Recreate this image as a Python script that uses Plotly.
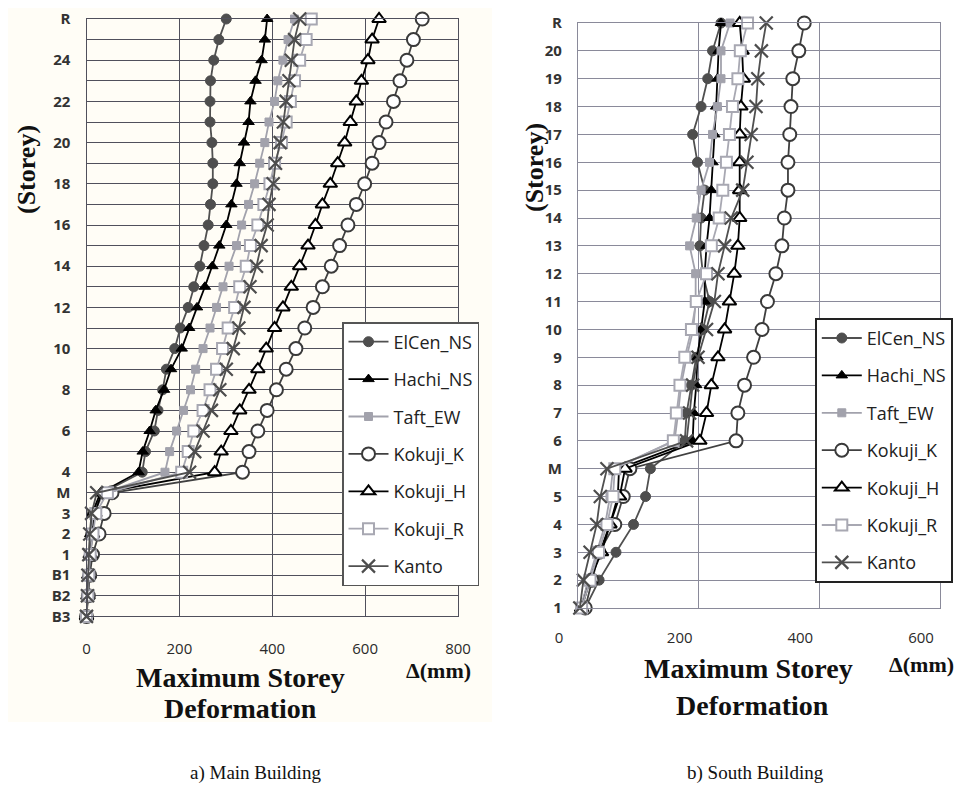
import plotly.graph_objects as go

# page body has an 8px margin: the figure is drawn from (8, 8) in the 966x800 window
OFF = 8
W, H = 966 - OFF, 800 - 2 * OFF

# ---------------- data: Main Building (bottom -> top) ----------------
levels_main = ["B3", "B2", "B1", "1", "2", "3", "M"] + [str(i) for i in range(4, 26)] + ["R"]
labels_main_shown = ["B3", "B2", "B1", "1", "2", "3", "M", "4", "6", "8", "10", "12", "14",
                     "16", "18", "20", "22", "24", "R"]

main_elcen = [0, 2, 4, 6, 9, 13, 35, 120, 127, 146, 154, 164, 172, 190, 202, 219, 231, 244, 253,
              262, 267, 272, 272, 270, 266, 266, 267, 274, 285, 301]
main_hachi = [0, 2, 3, 5, 8, 12, 30, 112, 121, 136, 149, 167, 182, 205, 221, 238, 255, 271, 286,
              301, 312, 323, 330, 339, 349, 353, 364, 377, 384, 389]
main_taft = [0, 2, 4, 6, 10, 15, 38, 169, 179, 194, 209, 224, 235, 251, 266, 280, 294, 307, 323,
             334, 349, 362, 373, 384, 393, 405, 412, 423, 434, 448]
main_kokuji_k = [0, 4, 7, 13, 27, 38, 55, 336, 350, 369, 389, 409, 430, 451, 470, 488, 508, 527,
                 545, 563, 581, 599, 615, 630, 645, 661, 675, 690, 704, 723]
main_kokuji_h = [0, 3, 5, 8, 13, 18, 33, 276, 290, 311, 330, 350, 369, 387, 405, 423, 441, 459,
                 477, 493, 508, 525, 541, 556, 568, 581, 592, 606, 615, 630]
main_kokuji_r = [0, 3, 5, 8, 14, 20, 45, 205, 219, 231, 251, 266, 280, 293, 305, 319, 330, 344,
                 353, 369, 382, 395, 405, 420, 430, 439, 448, 459, 473, 484]
main_kanto = [0, 2, 3, 5, 7, 11, 22, 222, 233, 251, 269, 287, 301, 316, 328, 339, 352, 366, 376,
              389, 393, 402, 407, 417, 424, 430, 436, 441, 448, 459]

# ---------------- data: South Building (bottom -> top) ----------------
levels_south = ["1", "2", "3", "4", "5", "M"] + [str(i) for i in range(6, 21)] + ["R"]

south_elcen = [12, 35, 63, 92, 112, 120, 177, 180, 188, 196, 207, 218, 207, 202, 204, 210, 198,
               190, 204, 215, 223, 237]
south_hachi = [5, 18, 36, 53, 66, 68, 190, 192, 196, 198, 204, 210, 210, 213, 218, 221, 223, 226,
               229, 231, 233, 237]
south_taft = [4, 17, 31, 45, 53, 58, 160, 166, 171, 180, 191, 195, 195, 185, 196, 204, 218, 223,
              231, 237, 237, 252]
south_kokuji_k = [12, 23, 35, 61, 75, 86, 262, 265, 276, 291, 305, 314, 328, 338, 342, 348, 348,
                  351, 353, 356, 366, 375]
south_kokuji_h = [6, 20, 39, 53, 69, 78, 202, 213, 221, 232, 243, 251, 259, 265, 268, 268, 268,
                  268, 270, 274, 272, 268]
south_kokuji_r = [6, 20, 34, 48, 58, 61, 158, 163, 169, 177, 188, 196, 213, 221, 234, 240, 246,
                  251, 256, 265, 269, 281]
south_kanto = [3, 9, 20, 31, 37, 48, 180, 185, 190, 199, 213, 226, 232, 243, 254, 273, 280, 287,
               295, 298, 304, 312]

series_names = ["ElCen_NS", "Hachi_NS", "Taft_EW", "Kokuji_K", "Kokuji_H", "Kokuji_R", "Kanto"]
main_series = [main_elcen, main_hachi, main_taft, main_kokuji_k, main_kokuji_h, main_kokuji_r, main_kanto]
south_series = [south_elcen, south_hachi, south_taft, south_kokuji_k, south_kokuji_h, south_kokuji_r, south_kanto]

x_ticks_main = [0, 200, 400, 600, 800]
x_ticks_south = [0, 200, 400, 600]

# ---------------- styles ----------------
styles = {
    "ElCen_NS": dict(line=dict(color="#505050", width=1.8),
                     marker=dict(symbol="circle", size=10, color="#4e4e4e", line=dict(color="#4e4e4e", width=1))),
    "Hachi_NS": dict(line=dict(color="#000000", width=1.8),
                     marker=dict(symbol="triangle-up", size=10, color="#000000", line=dict(color="#000000", width=1))),
    "Taft_EW": dict(line=dict(color="#a2a2ac", width=1.8),
                    marker=dict(symbol="square", size=8, color="#a2a2ac", line=dict(color="#a2a2ac", width=1))),
    "Kokuji_K": dict(line=dict(color="#404040", width=1.8),
                     marker=dict(symbol="circle", size=13, color="#ffffff", line=dict(color="#3a3a3a", width=2))),
    "Kokuji_H": dict(line=dict(color="#000000", width=1.8),
                     marker=dict(symbol="triangle-up", size=12, color="#ffffff", line=dict(color="#000000", width=2))),
    "Kokuji_R": dict(line=dict(color="#a8a8b2", width=1.8),
                     marker=dict(symbol="square", size=11, color="#ffffff", line=dict(color="#a8a8b2", width=2))),
    "Kanto": dict(line=dict(color="#505050", width=1.8),
                  marker=dict(symbol="x-thin", size=13, color="#4d4d4d", line=dict(color="#4d4d4d", width=2.2))),
}

fig = go.Figure()

for name, vals in zip(series_names, main_series):
    st = styles[name]
    fig.add_trace(go.Scatter(x=vals, y=levels_main, mode="lines+markers", name=name,
                             line=st["line"], marker=st["marker"], cliponaxis=False,
                             xaxis="x", yaxis="y", legend="legend", legendgroup="L" + name))

for name, vals in zip(series_names, south_series):
    st = styles[name]
    fig.add_trace(go.Scatter(x=vals, y=levels_south, mode="lines+markers", name=name,
                             line=st["line"], marker=st["marker"], cliponaxis=False,
                             xaxis="x2", yaxis="y2", legend="legend2", legendgroup="R" + name))


def px_x(p):
    """window pixel x -> paper fraction"""
    return (p - OFF) / W


def px_y(p):
    """window pixel y -> paper fraction"""
    return 1 - (p - OFF) / H


grid_main = "#50505c"
grid_south = "#8a8a9a"
tick_font = dict(family="Open Sans", size=15, color="#2a2a2a")
ytick_font = dict(family="Open Sans", size=15, color="#333333", weight="bold")
legend_font = dict(family="Open Sans", size=18, color="#222222")

fig.update_layout(
    width=W, height=H,
    margin=dict(l=0, r=0, t=0, b=0, autoexpand=False),
    paper_bgcolor="#ffffff",
    plot_bgcolor="rgba(0,0,0,0)",
    showlegend=True,
    xaxis=dict(domain=[px_x(86.5), px_x(458)], range=[0, 800], tickvals=x_ticks_main,
               showgrid=True, gridcolor=grid_main, gridwidth=1.3, zeroline=False,
               showline=True, linecolor=grid_main, linewidth=1.3, mirror=True,
               ticks="", ticklabelstandoff=18, tickfont=tick_font, anchor="y"),
    yaxis=dict(domain=[px_y(616.4), px_y(19)], type="category",
               categoryorder="array", categoryarray=levels_main,
               range=[0, len(levels_main) - 1], tickmode="array", tickvals=levels_main,
               ticktext=[lv if lv in labels_main_shown else "" for lv in levels_main],
               showgrid=True, gridcolor=grid_main, gridwidth=1.3, zeroline=False,
               showline=True, linecolor=grid_main, linewidth=1.3, mirror=True,
               ticks="", ticklabelstandoff=12, tickfont=ytick_font, anchor="x"),
    xaxis2=dict(domain=[px_x(578), px_x(940)], range=[0, 600], tickvals=x_ticks_south,
                showgrid=True, gridcolor=grid_south, gridwidth=1.3, zeroline=False,
                showline=True, linecolor=grid_south, linewidth=1.3, mirror=True,
                ticks="", ticklabelstandoff=16, ticklabelshift=-19, tickfont=tick_font, anchor="y2"),
    yaxis2=dict(domain=[px_y(608), px_y(23)], type="category",
                categoryorder="array", categoryarray=levels_south,
                range=[0, len(levels_south) - 1], tickmode="array", tickvals=levels_south,
                ticktext=levels_south,
                showgrid=True, gridcolor=grid_south, gridwidth=1.3, zeroline=False,
                showline=True, linecolor=grid_south, linewidth=1.3, mirror=True,
                ticks="", ticklabelstandoff=12, tickfont=ytick_font, anchor="x2"),
    legend=dict(x=px_x(342), y=px_y(322), xanchor="left", yanchor="top",
                bgcolor="#ffffff", bordercolor="#555555", borderwidth=1.5,
                font=legend_font, traceorder="grouped", tracegroupgap=11, itemwidth=40),
    legend2=dict(x=px_x(815), y=px_y(318), xanchor="left", yanchor="top",
                 bgcolor="#ffffff", bordercolor="#222222", borderwidth=1.8,
                 font=legend_font, traceorder="grouped", tracegroupgap=11, itemwidth=40),
)

serif_bold = dict(family="Liberation Serif", size=28, color="#111111", weight="bold")
annots = [
    dict(text="(Storey)", x=px_x(27), y=px_y(170), textangle=-90, font=dict(serif_bold, size=26)),
    dict(text="(Storey)", x=px_x(534), y=px_y(168), textangle=-90, font=dict(serif_bold, size=26)),
    dict(text="Maximum Storey", x=px_x(240), y=px_y(677), font=serif_bold),
    dict(text="Deformation", x=px_x(240), y=px_y(708), font=serif_bold),
    dict(text="Δ(mm)", x=px_x(438), y=px_y(670), font=dict(serif_bold, size=22)),
    dict(text="Maximum Storey", x=px_x(748), y=px_y(668), font=serif_bold),
    dict(text="Deformation", x=px_x(752), y=px_y(705), font=serif_bold),
    dict(text="Δ(mm)", x=px_x(921), y=px_y(664), font=dict(serif_bold, size=22)),
    dict(text="a) Main Building", x=px_x(255), y=px_y(773),
         font=dict(family="Liberation Serif", size=19, color="#111111")),
    dict(text="b) South Building", x=px_x(755), y=px_y(773),
         font=dict(family="Liberation Serif", size=19, color="#111111")),
]
for a in annots:
    fig.add_annotation(xref="paper", yref="paper", showarrow=False,
                       xanchor="center", yanchor="middle", **a)

fig.add_shape(type="rect", xref="paper", yref="paper", x0=0, x1=px_x(492), y0=px_y(722), y1=1,
              fillcolor="#fffdf6", line=dict(width=0), layer="below")

fig.write_html("out.html")
